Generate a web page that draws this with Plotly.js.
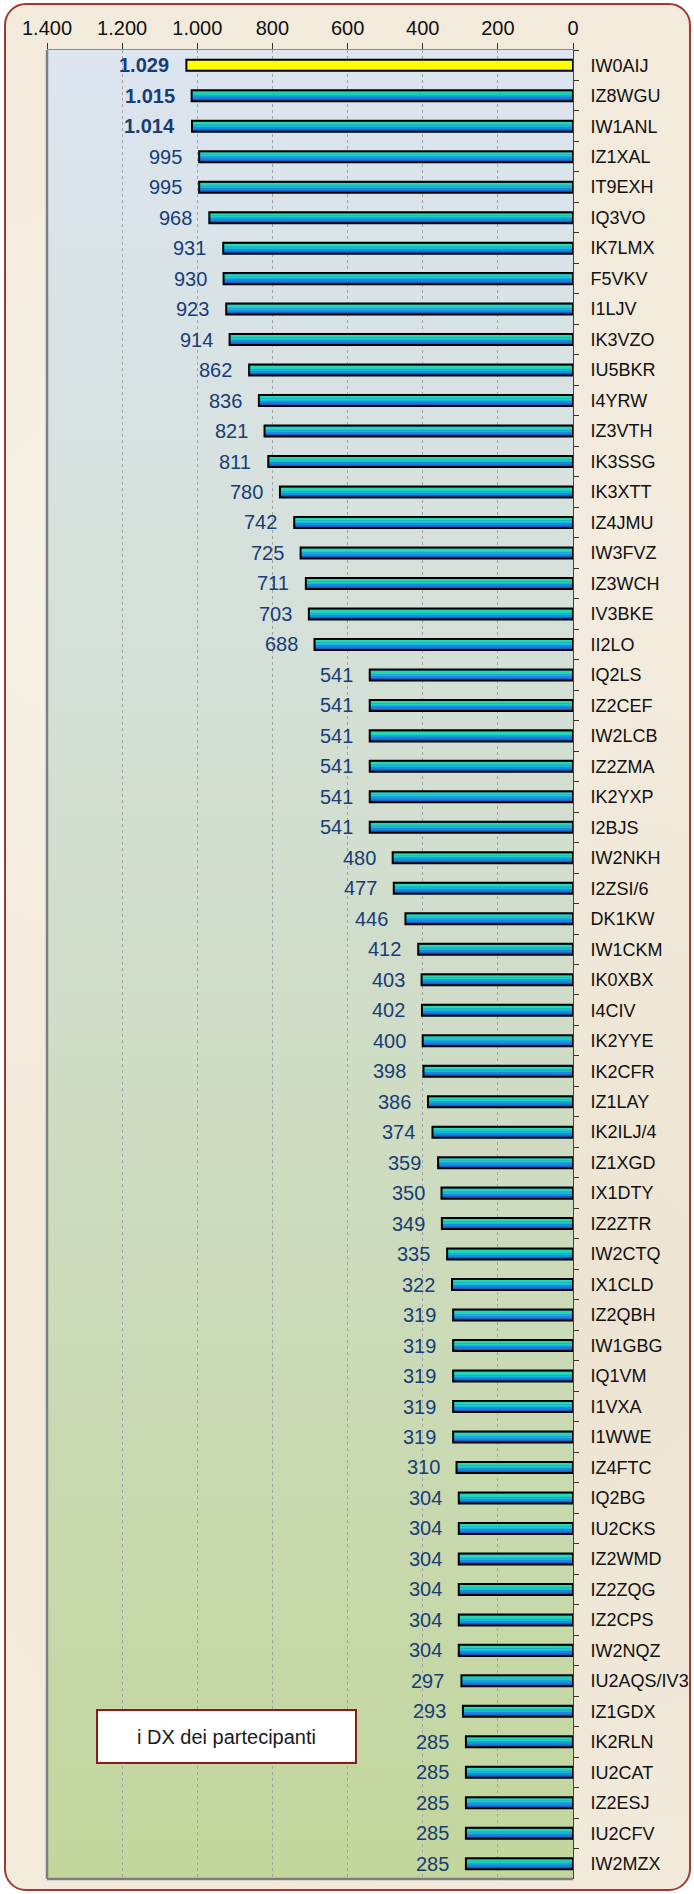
<!DOCTYPE html>
<html>
<head>
<meta charset="utf-8">
<script src="https://cdn.plot.ly/plotly-3.0.1.min.js"></script>
<style>
  html, body { margin: 0; padding: 0; background: #ffffff; }
  #wrap { position: relative; width: 694px; height: 1894px; overflow: hidden; }
  #frame {
    position: absolute; left: 4px; top: 3px; width: 687px; height: 1888px;
    box-sizing: border-box; border: 2px solid #a33838; border-radius: 22px;
    background-color: #f2eadb;
    background-image:
      radial-gradient(circle at 20% 30%, rgba(255,255,255,0.35) 0, rgba(255,255,255,0) 40%),
      radial-gradient(circle at 80% 70%, rgba(210,195,170,0.18) 0, rgba(210,195,170,0) 45%);
  }
  #chart { position: absolute; left: 0; top: 0; width: 694px; height: 1894px; }
</style>
</head>
<body>
<div id="wrap">
  <div id="frame"></div>
  <div id="chart"></div>
</div>
<script>
// ---------------- DATA ----------------
const categories = [
  "IW0AIJ","IZ8WGU","IW1ANL","IZ1XAL","IT9EXH","IQ3VO","IK7LMX","F5VKV","I1LJV","IK3VZO",
  "IU5BKR","I4YRW","IZ3VTH","IK3SSG","IK3XTT","IZ4JMU","IW3FVZ","IZ3WCH","IV3BKE","II2LO",
  "IQ2LS","IZ2CEF","IW2LCB","IZ2ZMA","IK2YXP","I2BJS","IW2NKH","I2ZSI/6","DK1KW","IW1CKM",
  "IK0XBX","I4CIV","IK2YYE","IK2CFR","IZ1LAY","IK2ILJ/4","IZ1XGD","IX1DTY","IZ2ZTR","IW2CTQ",
  "IX1CLD","IZ2QBH","IW1GBG","IQ1VM","I1VXA","I1WWE","IZ4FTC","IQ2BG","IU2CKS","IZ2WMD",
  "IZ2ZQG","IZ2CPS","IW2NQZ","IU2AQS/IV3","IZ1GDX","IK2RLN","IU2CAT","IZ2ESJ","IU2CFV","IW2MZX"
];
const values = [
  1029,1015,1014,995,995,968,931,930,923,914,
  862,836,821,811,780,742,725,711,703,688,
  541,541,541,541,541,541,480,477,446,412,
  403,402,400,398,386,374,359,350,349,335,
  322,319,319,319,319,319,310,304,304,304,
  304,304,304,297,293,285,285,285,285,285
];
const tickValues = [0, 200, 400, 600, 800, 1000, 1200, 1400];
const tickLabels = ["0", "200", "400", "600", "800", "1.000", "1.200", "1.400"];
const legendText = "i DX dei partecipanti";

// ---------------- STYLE ----------------
const FONT = "Liberation Sans, Arial, Helvetica, sans-serif";
const highlightCount = 1;   // first bar drawn yellow
const boldCount = 3;        // first three value labels in bold
const YELLOW = "#ffff00";

function fmt(v) {
  return String(v).replace(/\B(?=(\d{3})+(?!\d))/g, ".");
}
function colorsFor(c) {
  return values.map((v, i) => i < highlightCount ? YELLOW : c);
}

const BAR_W = 0.361;
const PX = 0.0328;           // one pixel in category units
const INNER_TOP = -0.1476;

function bar(color, offset, width, lineColor, lineWidth) {
  return {
    type: "bar", orientation: "h",
    x: values, y: categories,
    offset: offset, width: width,
    marker: { color: color, line: { color: lineColor || "rgba(0,0,0,0)", width: lineWidth || 0 } },
    hoverinfo: "skip", showlegend: false
  };
}

const stripes = [
  { c: "#25d8ae", h: 2.5 },
  { c: "#1ecfc6", h: 1.5 },
  { c: "#13b9df", h: 1.5 },
  { c: "#1a8ade", h: 2.0 }
];

const traces = [];
traces.push(bar(colorsFor("#1662c6"), -BAR_W / 2, BAR_W));
let off = INNER_TOP;
stripes.forEach(s => {
  traces.push(bar(colorsFor(s.c), off, s.h * PX));
  off += s.h * PX;
});
traces.push(bar(values.map(() => "rgba(0,0,0,0)"), -BAR_W / 2, BAR_W, "#000000", 2));

const annotations = values.map((v, i) => ({
  x: v, y: categories[i], xref: "x", yref: "y",
  text: fmt(v), showarrow: false,
  xanchor: "right", yanchor: "middle", xshift: -15,
  font: { family: FONT, size: 20, color: "#173d76", weight: i < boldCount ? "bold" : "normal" }
}));

annotations.push({
  x: 0.342, y: 0.078, xref: "paper", yref: "paper",
  xanchor: "center", yanchor: "middle",
  text: legendText, showarrow: false,
  width: 257, height: 51, borderpad: 0,
  bgcolor: "#ffffff", bordercolor: "#8b1a1a", borderwidth: 2,
  font: { family: FONT, size: 20, color: "#1a1a1a" }
});

const bgSvg =
  '<svg xmlns="http://www.w3.org/2000/svg" width="100" height="100" preserveAspectRatio="none">' +
  '<defs><linearGradient id="g" x1="0" y1="0" x2="0" y2="1">' +
  '<stop offset="0" stop-color="#dce5f0"/>' +
  '<stop offset="0.5" stop-color="#d1ddca"/>' +
  '<stop offset="1" stop-color="#c3d69c"/>' +
  '</linearGradient></defs><rect width="100" height="100" fill="url(#g)"/></svg>';

const layout = {
  width: 694, height: 1894,
  margin: { l: 47, r: 121, t: 50, b: 15, pad: 0 },
  paper_bgcolor: "rgba(0,0,0,0)",
  plot_bgcolor: "rgba(0,0,0,0)",
  barmode: "overlay",
  showlegend: false,
  separators: ",.",
  font: { family: FONT, color: "#111111" },
  xaxis: {
    range: [1400, 0], side: "top",
    tickmode: "array", tickvals: tickValues, ticktext: tickLabels,
    ticks: "outside", ticklen: 6, tickwidth: 1, tickcolor: "#333333",
    tickfont: { family: FONT, size: 20, color: "#111111" },
    showgrid: true, gridcolor: "#a3a3a3", griddash: "dot", gridwidth: 1,
    showline: true, linecolor: "#8a8a8a", linewidth: 1,
    zeroline: false, fixedrange: true, automargin: false
  },
  yaxis: {
    type: "category", categoryorder: "array", categoryarray: categories,
    range: [categories.length - 0.5, -0.5], side: "right",
    ticks: "outside", tickson: "boundaries", ticklen: 5, tickwidth: 1, tickcolor: "#333333",
    tickfont: { family: FONT, size: 18, color: "#111111" },
    ticklabelstandoff: 13,
    showgrid: false, showline: true, linecolor: "#444444", linewidth: 1,
    zeroline: false, fixedrange: true, automargin: false
  },
  images: [{
    source: "data:image/svg+xml;charset=utf-8," + encodeURIComponent(bgSvg),
    xref: "paper", yref: "paper", x: 0, y: 1, sizex: 1, sizey: 1,
    xanchor: "left", yanchor: "top", sizing: "stretch", layer: "below"
  }],
  shapes: [
    { type: "line", xref: "paper", yref: "paper", x0: 0, x1: 0, y0: 0, y1: 1,
      line: { color: "#7f7f7f", width: 2.5 } },
    { type: "line", xref: "paper", yref: "paper", x0: 0, x1: 1, y0: 0, y1: 0,
      line: { color: "#7f7f7f", width: 2.5 } }
  ],
  annotations: annotations
};

Plotly.newPlot("chart", traces, layout, { displayModeBar: false, staticPlot: true });
</script>
</body>
</html>
